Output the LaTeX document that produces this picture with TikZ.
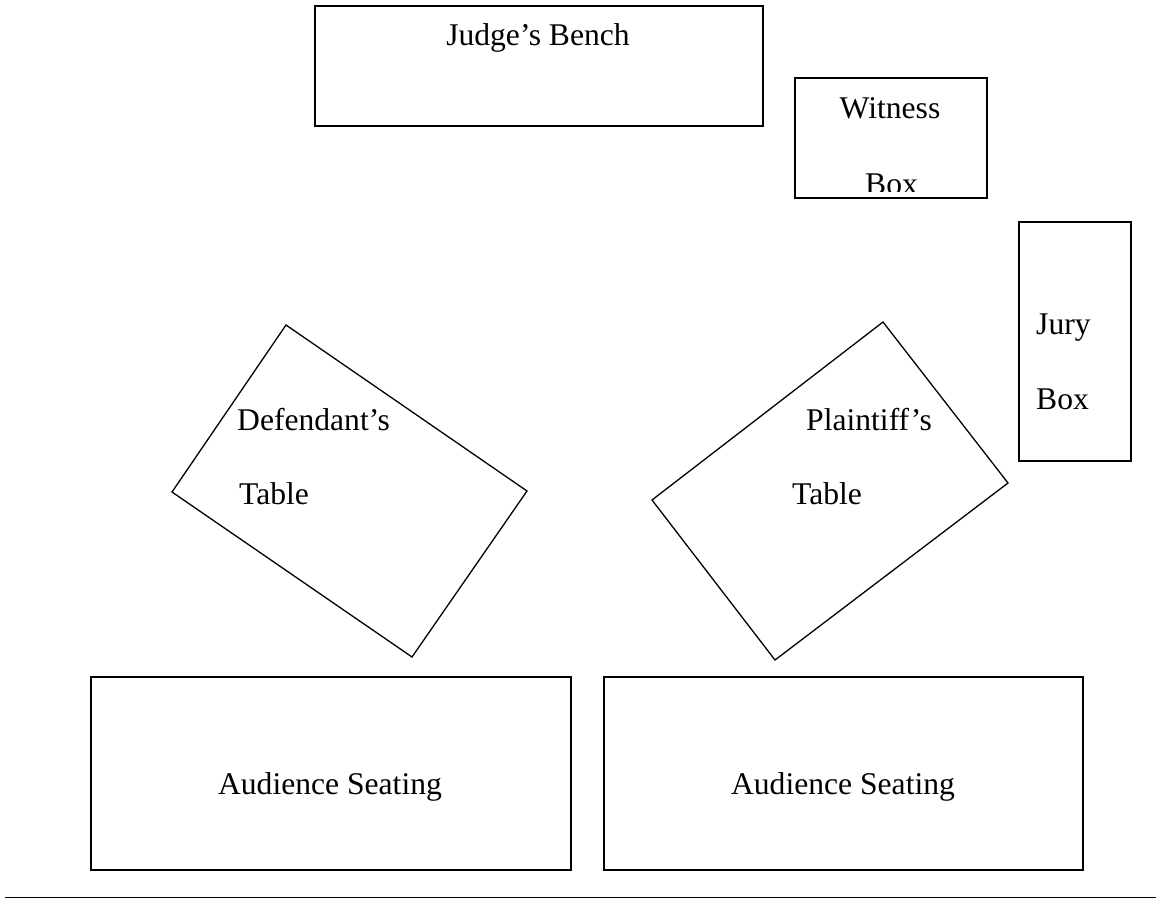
\documentclass[tikz,border=0pt]{standalone}
\usepackage{fontspec}
\setmainfont{Liberation Serif}
\begin{document}
\begin{tikzpicture}[x=1pt,y=-1pt,
  box/.style={draw=black,line width=1.5pt},
  lbl/.style={inner sep=0pt,font=\fontsize{31.6}{38}\selectfont,text=black}]
\useasboundingbox (0,0) rectangle (1156,899);
% Judge's bench
\draw[box] (315,6) rectangle (763,126);
\node[lbl,anchor=base] (judge) at (538,46) {Judge’s Bench};
% Witness box
\draw[box] (795,78) rectangle (987,198);
\node[lbl,anchor=base] (witness) at (890,118) {Witness};
\begin{scope}
  \clip (796,79) rectangle (986,191);
  \node[lbl,anchor=base west] (wbox) at (865,194) {Box};
\end{scope}
% Jury box
\draw[box] (1019,222) rectangle (1131,461);
\node[lbl,anchor=base west] (jury) at (1036,334) {Jury};
\node[lbl,anchor=base west] (jurybox) at (1036,409) {Box};
% Defendant's table
\coordinate (d1) at (286,325);
\coordinate (d2) at (527,491);
\coordinate (d3) at (412,657);
\coordinate (d4) at (172,492);
\draw[box,line width=1.3pt,line join=miter] (d1) -- (d2) -- (d3) -- (d4) -- cycle;
\node[lbl,anchor=base west] (def) at (237,430) {Defendant’s};
\node[lbl,anchor=base west] (deft) at (239,504) {Table};
% Plaintiff's table
\coordinate (p1) at (883,322);
\coordinate (p2) at (1008,483);
\coordinate (p3) at (775,660);
\coordinate (p4) at (652,500);
\draw[box,line width=1.3pt,line join=miter] (p1) -- (p2) -- (p3) -- (p4) -- cycle;
\node[lbl,anchor=base west] (pla) at (806,430) {Plaintiff’s};
\node[lbl,anchor=base west] (plat) at (792,504) {Table};
% Audience seating
\draw[box] (91,677) rectangle (571,870);
\node[lbl,anchor=base] (aud1) at (330,794) {Audience Seating};
\draw[box] (604,677) rectangle (1083,870);
\node[lbl,anchor=base] (aud2) at (843,794) {Audience Seating};
% bottom rule
\coordinate (r1) at (5,897.5);
\coordinate (r2) at (1156,897.5);
\draw[line width=1.3pt] (r1) -- (r2);
\end{tikzpicture}
\end{document}
